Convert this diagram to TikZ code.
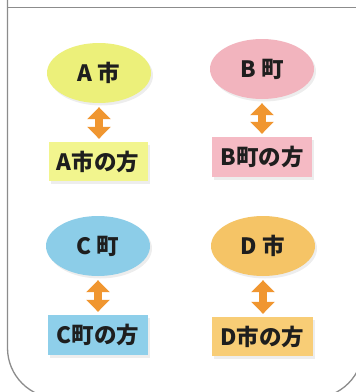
\documentclass[tikz,border=0pt]{standalone}
\usepackage{fontspec}
\newfontfamily\cjk{Noto Sans CJK JP}
\usetikzlibrary{shapes.geometric,arrows.meta,shadows}
\definecolor{frameC}{RGB}{140,140,140}
\definecolor{yelE}{RGB}{236,240,122}
\definecolor{yelB}{RGB}{242,245,142}
\definecolor{pinkE}{RGB}{242,180,190}
\definecolor{pinkB}{RGB}{245,186,196}
\definecolor{blueE}{RGB}{140,205,232}
\definecolor{blueB}{RGB}{142,207,234}
\definecolor{oraE}{RGB}{245,196,102}
\definecolor{oraB}{RGB}{248,205,118}
\definecolor{arrC}{RGB}{240,150,48}
\definecolor{txtC}{RGB}{30,30,30}
\tikzset{
  x=1pt, y=-1pt,
  soft/.style={drop shadow={shadow xshift=2pt, shadow yshift=-2.5pt, opacity=0.07, fill=black}},
  place/.style={ellipse, minimum width=104pt, minimum height=60pt, inner sep=0pt,
    font=\cjk\bfseries\fontsize{22.5}{26}\selectfont, text=txtC, soft},
  label box/.style={rectangle, minimum width=100pt, minimum height=39pt, inner sep=0pt,
    font=\cjk\bfseries\fontsize{22.5}{26}\selectfont, text=txtC, soft},
  link/.style={draw=arrC, line width=7.5pt,
    {Triangle[width=23pt,length=12pt]}-{Triangle[width=23pt,length=12pt]},
    shorten <=4pt, shorten >=3pt},
  frame/.style={draw=frameC, line width=1.3pt}
}
\begin{document}
\begin{tikzpicture}
\useasboundingbox (0,0) rectangle (356,392);
\fill[white] (0,0) rectangle (356,392);
\begin{scope}
\clip (0,0) rectangle (356,392);
\draw[frame, rounded corners=50pt] (7.5,-20) -- (7.5,398) -- (363,398) -- (363,-20);
\draw[frame] (7.5,7.5) -- (370,7.5);
\end{scope}

\node[place, fill=yelE] (ae) at (99,73) {A 市};
\node[place, fill=pinkE] (be) at (262,69) {B 町};
\node[place, fill=blueE] (ce) at (98,246) {C 町};
\node[place, fill=oraE] (de) at (263,246) {D 市};

\node[label box, fill=yelB, minimum width=99pt] (ab) at (98,161.5) {A市の方};
\node[label box, fill=pinkB, minimum height=40pt] (bb) at (262,157) {B町の方};
\node[label box, fill=blueB, minimum height=40pt] (cb) at (98,335) {C町の方};
\node[label box, fill=oraB, minimum width=101pt] (db) at (262.5,336.5) {D市の方};

\draw[link] (ae.south) -- (ab.north -| ae.south);
\draw[link] (be.south) -- (bb.north -| be.south);
\draw[link] (ce.south) -- (cb.north -| ce.south);
\draw[link] (de.south) -- (db.north -| de.south);
\end{tikzpicture}
\end{document}
